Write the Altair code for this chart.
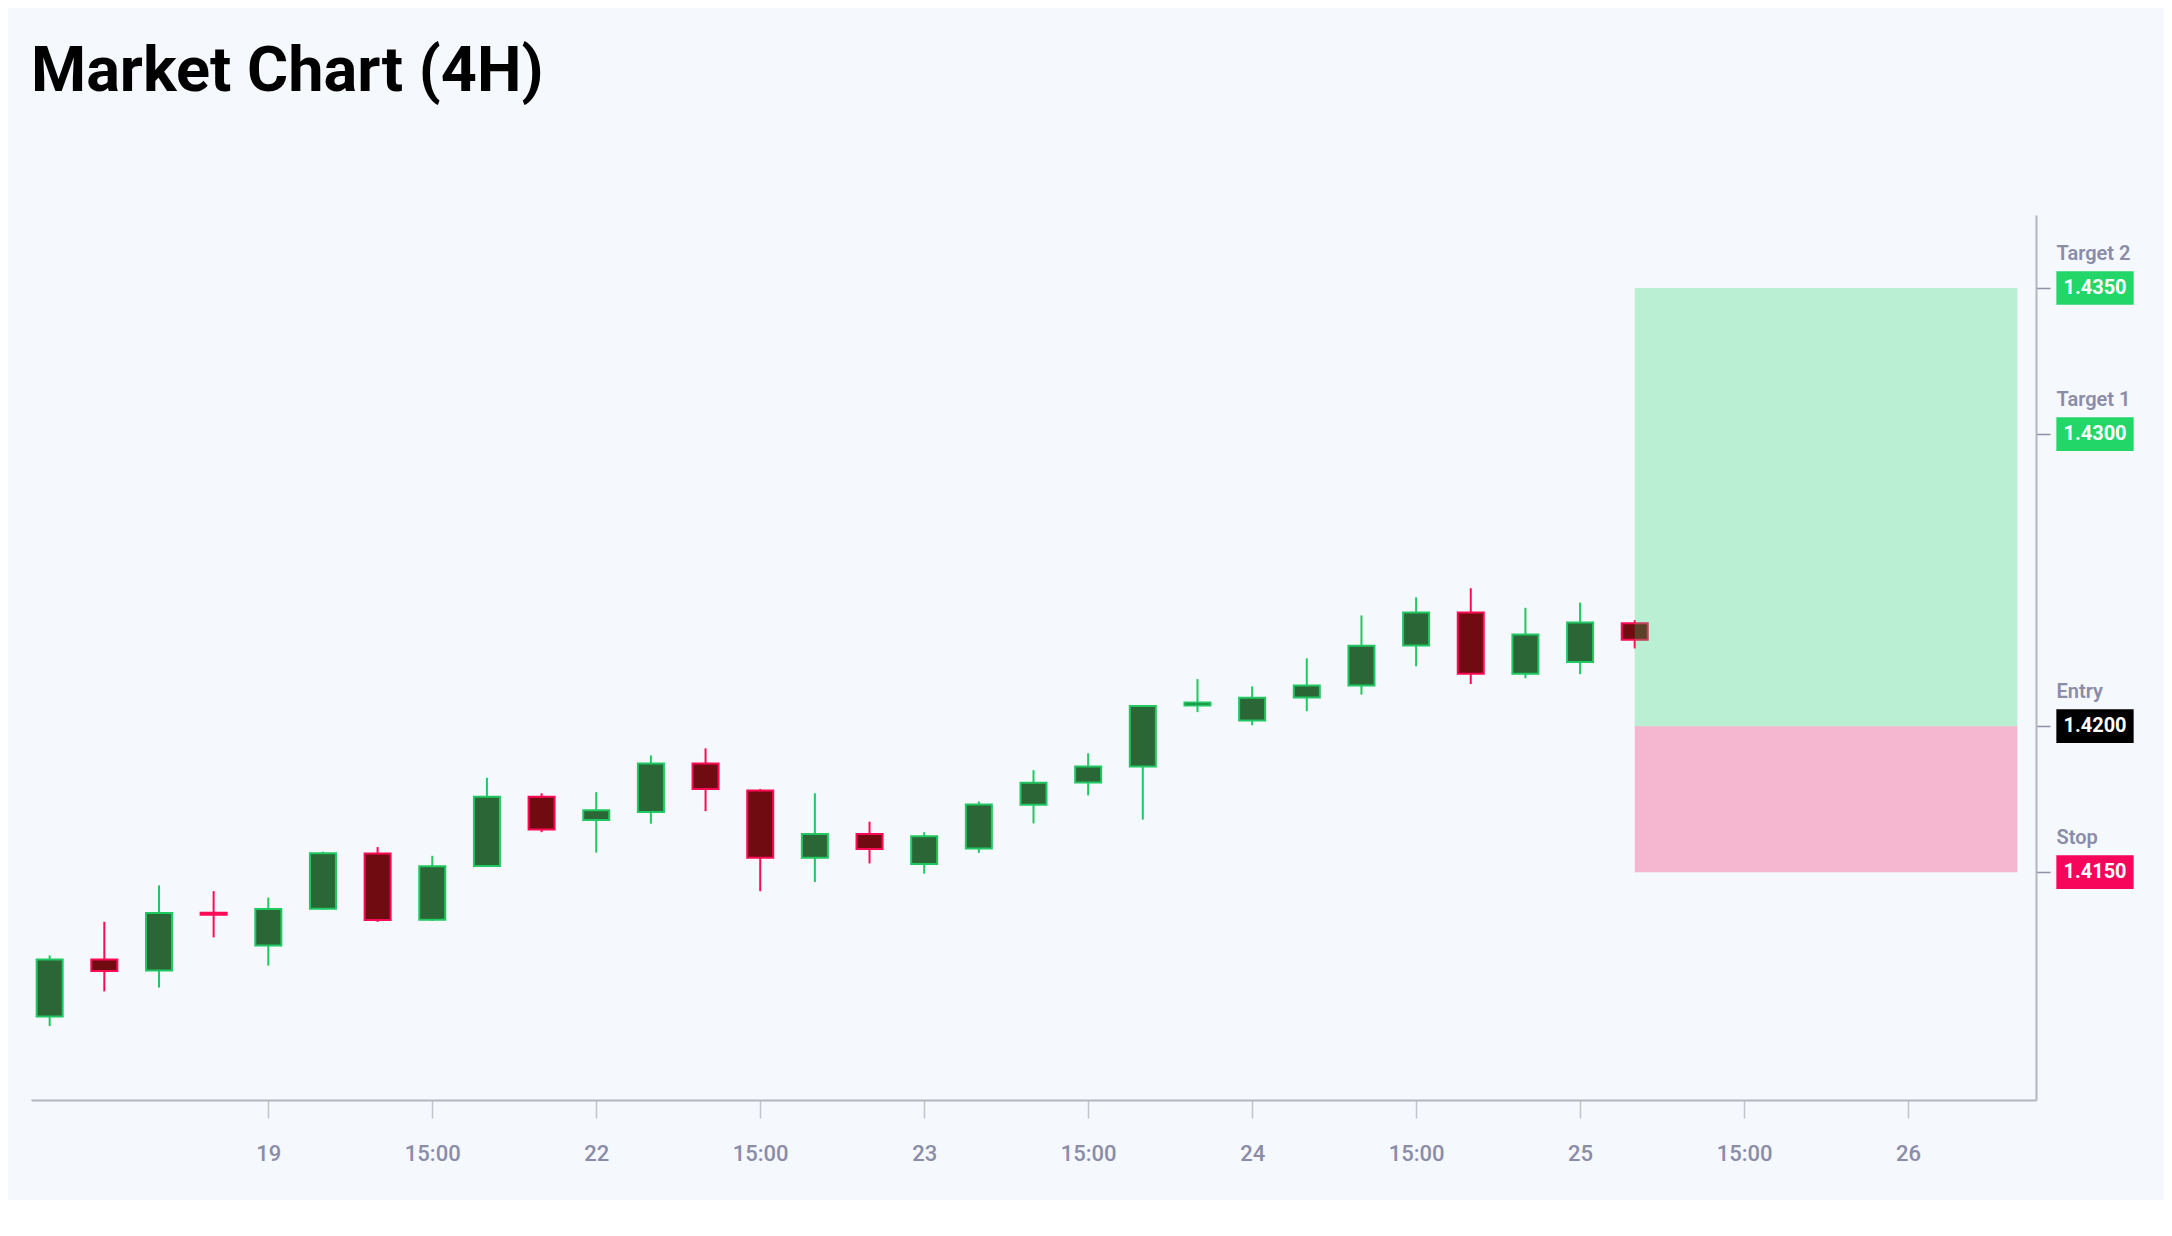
import altair as alt
import pandas as pd

TITLE = "Market Chart (4H)"

# 4H candles, left to right
opens = [1.41006, 1.41201, 1.41163, 1.41361, 1.41249, 1.41375, 1.41564, 1.41337, 1.41521, 1.41758,
         1.41679, 1.41706, 1.41872, 1.41780, 1.41549, 1.41631, 1.41528, 1.41581, 1.41731, 1.41807,
         1.41862, 1.42071, 1.42019, 1.42098, 1.42139, 1.42276, 1.42389, 1.42179, 1.42220, 1.42352]
highs = [1.41215, 1.41330, 1.41455, 1.41435, 1.41413, 1.41570, 1.41586, 1.41556, 1.41823, 1.41770,
         1.41774, 1.41900, 1.41924, 1.41785, 1.41770, 1.41673, 1.41637, 1.41742, 1.41849, 1.41907,
         1.42072, 1.42161, 1.42136, 1.42232, 1.42379, 1.42441, 1.42472, 1.42405, 1.42423, 1.42363]
lows = [1.40973, 1.41092, 1.41105, 1.41277, 1.41180, 1.41372, 1.41330, 1.41333, 1.41518, 1.41637,
        1.41567, 1.41666, 1.41709, 1.41435, 1.41466, 1.41530, 1.41495, 1.41566, 1.41667, 1.41763,
        1.41680, 1.42048, 1.42003, 1.42051, 1.42108, 1.42205, 1.42144, 1.42164, 1.42178, 1.42266]
closes = [1.41201, 1.41162, 1.41360, 1.41354, 1.41374, 1.41565, 1.41336, 1.41520, 1.41758, 1.41646,
          1.41712, 1.41872, 1.41785, 1.41549, 1.41631, 1.41579, 1.41623, 1.41732, 1.41806, 1.41862,
          1.42069, 1.42081, 1.42097, 1.42139, 1.42275, 1.42389, 1.42179, 1.42314, 1.42355, 1.42296]

tick_positions = [4, 7, 10, 13, 16, 19, 22, 25, 28, 31, 34]
tick_labels = ["19", "15:00", "22", "15:00", "23", "15:00", "24", "15:00", "25", "15:00", "26"]

level_names = ["Target 2", "Target 1", "Entry", "Stop"]
level_prices = [1.4350, 1.4300, 1.4200, 1.4150]
level_colors = ["#22d667", "#22d667", "#000000", "#f7055a"]

zone_start = 29
zone_end = 36

GREEN = "#20c862"
RED = "#ff0a54"
GREEN_FILL = "#2a6636"
RED_FILL = "#700b12"
AXIS_TEXT = "#8a8ca8"
BG = "#f5f8fd"

W, H = 2005, 885

df = pd.DataFrame({"idx": list(range(len(opens))), "open": opens, "high": highs,
                   "low": lows, "close": closes})
df["dir"] = ["up" if c >= o else "down" for o, c in zip(opens, closes)]

levels = pd.DataFrame({"name": level_names, "price": level_prices, "color": level_colors,
                       "label": [f"{p:.4f}" for p in level_prices]})

profit = pd.DataFrame({"x": [zone_start], "x2": [zone_end], "y": [level_prices[2]], "y2": [level_prices[0]]})
loss = pd.DataFrame({"x": [zone_start], "x2": [zone_end], "y": [level_prices[3]], "y2": [level_prices[2]]})

xscale = alt.Scale(domain=[-0.25, 36.25], nice=False, zero=False)
yscale = alt.Scale(domain=[1.4072, 1.4375], nice=False, zero=False)

label_expr = "[" + ",".join(f"'{t}'" for t in tick_labels) + "][round((datum.value - 4) / 3)]"

xaxis = alt.Axis(values=tick_positions, labelExpr=label_expr, title=None, grid=False,
                 domainColor="#b3b6bd", domainWidth=2, tickColor="#c2c5cc", tickWidth=1.5,
                 tickSize=18, labelPadding=25, labelFontSize=22, labelFont="Roboto",
                 labelFontWeight=500, labelColor=AXIS_TEXT, labelFlush=False)
yaxis = alt.Axis(orient="right", values=level_prices, labels=False, title=None, grid=False,
                 domainColor="#b3b6bd", domainWidth=2, tickColor="#8e91a6", tickWidth=1.5,
                 tickSize=14)

X = lambda f: alt.X(f, type="quantitative", scale=xscale, axis=xaxis)
Y = lambda f: alt.Y(f, type="quantitative", scale=yscale, axis=yaxis)

stroke_scale = alt.Scale(domain=["up", "down"], range=[GREEN, RED])
fill_scale = alt.Scale(domain=["up", "down"], range=[GREEN_FILL, RED_FILL])

wicks = alt.Chart(df).mark_rule(strokeWidth=2).encode(
    x=X("idx"), y=Y("low"), y2="high",
    stroke=alt.Stroke("dir:N", scale=stroke_scale, legend=None))

bodies = alt.Chart(df).mark_bar(size=26, strokeWidth=2).encode(
    x=X("idx"), y=Y("open"), y2="close",
    fill=alt.Fill("dir:N", scale=fill_scale, legend=None),
    stroke=alt.Stroke("dir:N", scale=stroke_scale, legend=None))

zone_up = alt.Chart(profit).mark_rect(color="#22d667", opacity=0.27).encode(
    x=X("x"), x2="x2", y=Y("y"), y2="y2")
zone_down = alt.Chart(loss).mark_rect(color="#f7055a", opacity=0.27).encode(
    x=X("x"), x2="x2", y=Y("y"), y2="y2")

BOX = "M-1,-0.436L1,-0.436L1,0.436L-1,0.436Z"
boxes = alt.Chart(levels).mark_point(shape=BOX, size=5975, filled=True, opacity=1, strokeWidth=0).encode(
    x=alt.value(W + 59), y=Y("price"),
    color=alt.Color("color:N", scale=None, legend=None))

values_text = alt.Chart(levels).mark_text(font="Roboto", fontSize=20, fontWeight="bold",
                                          color="#ffffff", align="center", baseline="middle").encode(
    x=alt.value(W + 59), y=Y("price"), text="label:N")

names_text = alt.Chart(levels).mark_text(font="Roboto", fontSize=20, fontWeight=600,
                                         color=AXIS_TEXT, align="left", baseline="alphabetic",
                                         dy=-28).encode(
    x=alt.value(W + 20.5), y=Y("price"), text="name:N")

chart = alt.layer(wicks, bodies, zone_up, zone_down, boxes, values_text, names_text).properties(
    width=W, height=H,
    title=alt.Title(TITLE, anchor="start", fontSize=63, font="Roboto", fontWeight="bold",
                    color="#000000", offset=111),
    autosize=alt.AutoSizeParams(type="none"),
    padding={"left": 23, "top": 207, "right": 128, "bottom": 100},
    background=BG,
).configure_view(stroke=None)

chart.save("out.html", embed_options={"renderer": "svg", "actions": False})
